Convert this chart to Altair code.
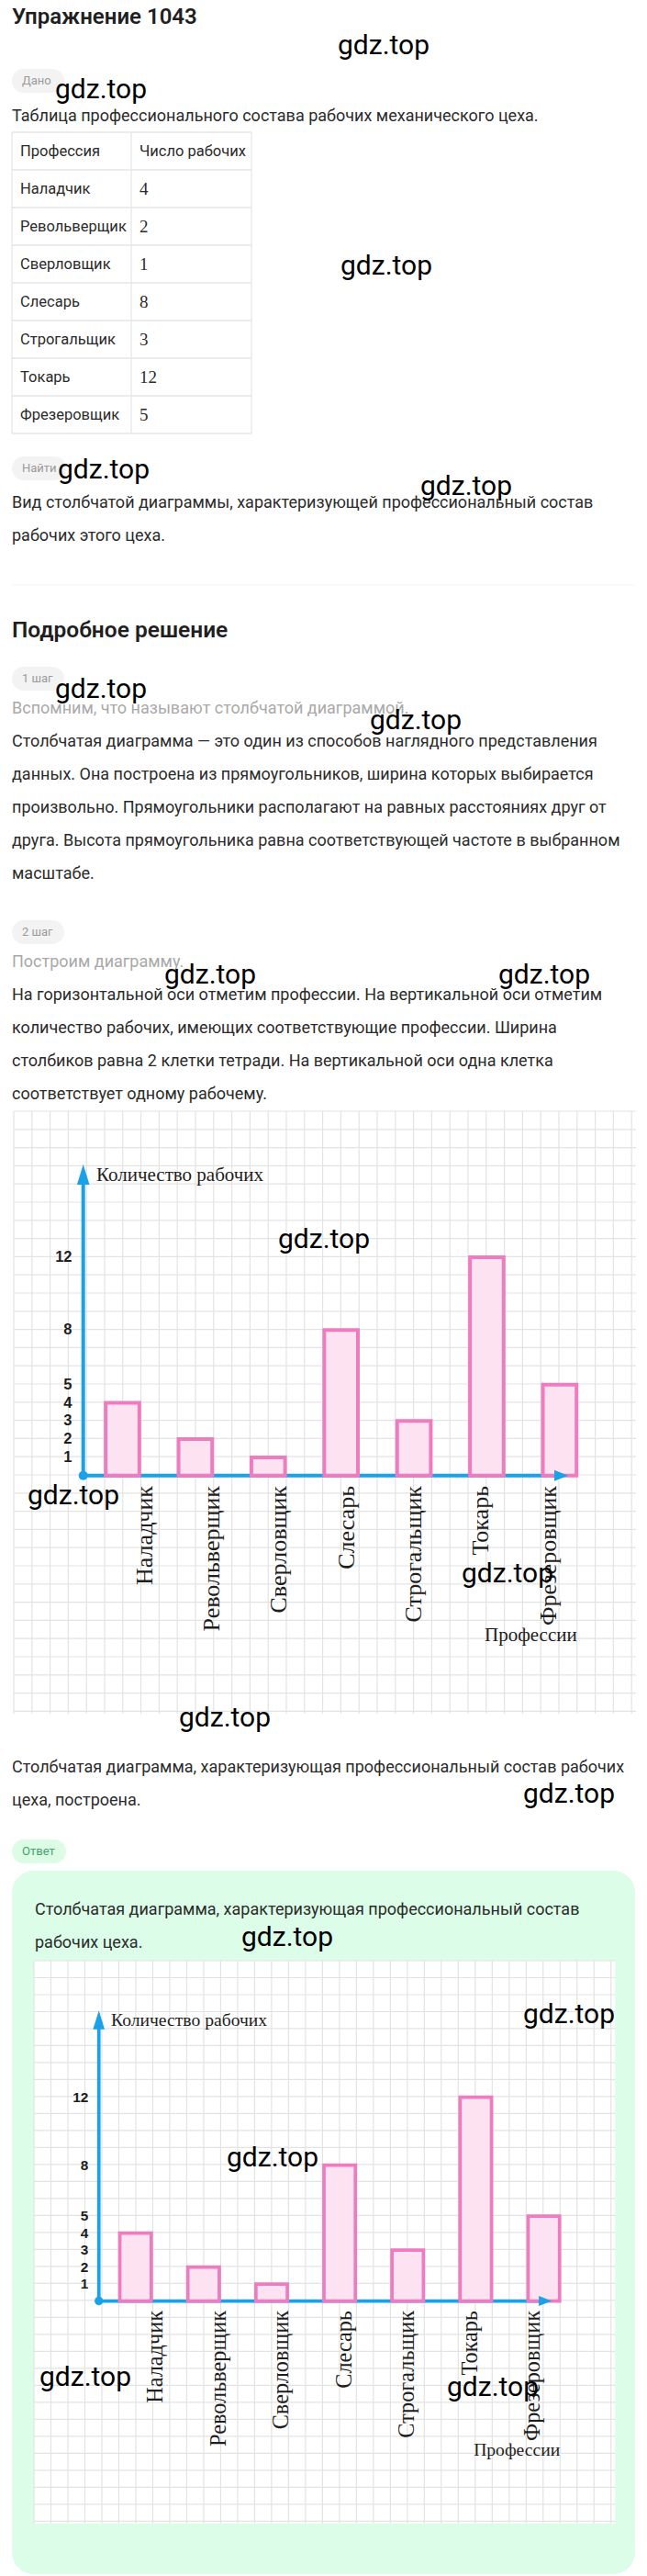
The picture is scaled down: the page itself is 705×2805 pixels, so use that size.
import altair as alt
import pandas as pd

# ---------------- data ----------------
professions = ["Наладчик", "Револьверщик", "Сверловщик", "Слесарь",
               "Строгальщик", "Токарь", "Фрезеровщик"]
workers = [4, 2, 1, 8, 3, 12, 5]
y_tick_values = [12, 8, 5, 4, 3, 2, 1]
table_header = ["Профессия", "Число рабочих"]
y_axis_title = "Количество рабочих"
x_axis_title = "Профессии"

exercise_title = "Упражнение 1043"
given_text = "Таблица профессионального состава рабочих механического цеха."
find_lines = ["Вид столбчатой диаграммы, характеризующей профессиональный состав",
              "рабочих этого цеха."]
solution_title = "Подробное решение"
step1_hint = "Вспомним, что называют столбчатой диаграммой."
step1_lines = ["Столбчатая диаграмма — это один из способов наглядного представления",
               "данных. Она построена из прямоугольников, ширина которых выбирается",
               "произвольно. Прямоугольники располагают на равных расстояниях друг от",
               "друга. Высота прямоугольника равна соответствующей частоте в выбранном",
               "масштабе."]
step2_hint = "Построим диаграмму."
step2_lines = ["На горизонтальной оси отметим профессии. На вертикальной оси отметим",
               "количество рабочих, имеющих соответствующие профессии. Ширина",
               "столбиков равна 2 клетки тетради. На вертикальной оси одна клетка",
               "соответствует одному рабочему."]
done_lines = ["Столбчатая диаграмма, характеризующая профессиональный состав рабочих",
              "цеха, построена."]
answer_lines = ["Столбчатая диаграмма, характеризующая профессиональный состав",
                "рабочих цеха."]
pill_labels = ["Дано", "Найти", "1 шаг", "2 шаг", "Ответ"]
watermark = "gdz.top"

# ---------------- style ----------------
W, H = 705, 2805
SANS = "Roboto"
SERIF = "Liberation Serif"
TXT = "#2b2b2b"
GRAY = "#a9a9a9"
BLUE = "#1ba1e8"
PINK = "#ee7cc0"
PINK_FILL = "#fde3f1"
GRID = "#e3e3e3"
BODY = 18
LH = 36

layers = []
one = pd.DataFrame({"a": [0]})


def text(s, x, y, size=BODY, color=TXT, weight="normal", font=SANS, align="left"):
    return alt.Chart(pd.DataFrame({"t": [s]})).mark_text(
        font=font, fontSize=size, color=color, fontWeight=weight, align=align, baseline="middle"
    ).encode(text="t:N", x=alt.value(x), y=alt.value(y))


def paragraph(lines, x, y0, size=BODY, color=TXT):
    df = pd.DataFrame({"line": lines, "i": list(range(len(lines)))})
    return alt.Chart(df).mark_text(
        font=SANS, fontSize=size, color=color, align="left", baseline="middle"
    ).encode(text="line:N", x=alt.value(x),
             y=alt.Y("i:Q", scale=alt.Scale(domain=[0, 1], range=[y0, y0 + LH], nice=False, zero=False),
                     axis=None))


def rect(x1, y1, x2, y2, fill, radius=0):
    return alt.Chart(one).mark_rect(fill=fill, cornerRadius=radius).encode(
        x=alt.value(x1), x2=alt.value(x2), y=alt.value(y1), y2=alt.value(y2))


def hline(x1, x2, y, color, sw=1):
    return alt.Chart(one).mark_rule(color=color, strokeWidth=sw).encode(
        x=alt.value(x1), x2=alt.value(x2), y=alt.value(y))


def vline(x, y1, y2, color, sw=1):
    return alt.Chart(one).mark_rule(color=color, strokeWidth=sw).encode(
        x=alt.value(x), y=alt.value(y1), y2=alt.value(y2))


def point(x, y, shape, size, color=BLUE):
    return alt.Chart(one).mark_point(shape=shape, size=size, filled=True, color=color,
                                     opacity=1, strokeWidth=0).encode(x=alt.value(x), y=alt.value(y))


def pill(label, y, fill="#f3f3f3", color="#9b9b9b", x2=70):
    return [rect(13, y - 13, x2, y + 13, fill, radius=13),
            text(label, 24, y, size=13, color=color)]


bars_df = pd.DataFrame({"prof": professions, "n": workers})


def chart_block(ox, oy, s):
    L = []
    cell = 19.8 * s
    gw, gh = 678 * s, 656 * s
    L.append(rect(ox, oy, ox + gw, oy + gh, "#ffffff"))
    ncol = int(gw / cell) + 1
    nrow = int(gh / cell) + 1
    L.append(alt.Chart(pd.DataFrame({"k": list(range(ncol))})).mark_rule(color=GRID, strokeWidth=1.2).encode(
        x=alt.X("k:Q", scale=alt.Scale(domain=[0, 1], range=[ox, ox + cell], nice=False, zero=False), axis=None),
        y=alt.value(oy), y2=alt.value(oy + gh)))
    L.append(alt.Chart(pd.DataFrame({"k": list(range(nrow))})).mark_rule(color=GRID, strokeWidth=1.2).encode(
        y=alt.Y("k:Q", scale=alt.Scale(domain=[0, 1], range=[oy, oy + cell], nice=False, zero=False), axis=None),
        x=alt.value(ox), x2=alt.value(ox + gw)))

    ax = ox + 75.7 * s
    base = oy + 396.7 * s
    unit = 19.8 * s
    tip_y = oy + 58 * s
    xtip = ox + 604 * s

    L.append(vline(ax, tip_y + 12 * s, base, BLUE, 4 * s))
    L.append(hline(ax, xtip - 8 * s, base, BLUE, 4 * s))

    r0, r1 = ox + 100.15 * s, ox + 613.2 * s
    xs = alt.Scale(domain=professions, range=[r0, r1], paddingInner=0.538, paddingOuter=0)
    ys = alt.Scale(domain=[0, 12], range=[base, base - 12 * unit], nice=False, zero=False)
    L.append(alt.Chart(bars_df).mark_bar(fill=PINK_FILL, stroke=PINK, strokeWidth=4 * s).encode(
        x=alt.X("prof:N", scale=xs, axis=None),
        y=alt.Y("n:Q", scale=ys, axis=None)))

    L.append(point(ax, tip_y + 11 * s, "M0,-1L0.62,1L-0.62,1Z", (22 * s) ** 2))
    L.append(point(xtip - 7.5 * s, base, "M1,0L-1,-0.8L-1,0.8Z", (15 * s) ** 2))
    L.append(point(ax, base, "circle", (10 * s) ** 2))

    L.append(alt.Chart(pd.DataFrame({"v": y_tick_values})).mark_text(
        font="Liberation Sans", fontWeight="bold", fontSize=16.5 * s, color="#1e1e1e",
        align="right", baseline="middle").encode(
        text="v:Q", x=alt.value(ox + 63.5 * s), y=alt.Y("v:Q", scale=ys, axis=None)))

    xs_lab = alt.Scale(domain=professions, range=[r0 + 6 * s, r1 + 6 * s], paddingInner=0.538, paddingOuter=0)
    L.append(alt.Chart(bars_df).mark_text(
        font=SERIF, fontSize=26 * s, color="#1e1e1e", angle=270, align="right", baseline="middle").encode(
        text="prof:N", x=alt.X("prof:N", scale=xs_lab, axis=None), y=alt.value(oy + 408 * s)))

    L.append(text(y_axis_title, ox + 90 * s, oy + 70 * s, size=21 * s, font=SERIF, color="#1e1e1e"))
    L.append(text(x_axis_title, ox + 513 * s, oy + 571 * s, size=21 * s, font=SERIF, color="#1e1e1e"))
    return L


# ---------------- page ----------------
layers.append(text(exercise_title, 13, 19, size=24, weight=600, color="#1f1f1f"))
layers += pill(pill_labels[0], 88)
layers.append(text(given_text, 13, 127))

# table
T_TOP, T_BOT, T_L, T_M, T_R = 144, 472, 13, 143, 274
TB = "#e6e6e6"
layers.append(alt.Chart(pd.DataFrame({"k": list(range(9))})).mark_rule(color=TB, strokeWidth=1.3).encode(
    y=alt.Y("k:Q", scale=alt.Scale(domain=[0, 8], range=[T_TOP, T_BOT], nice=False, zero=False), axis=None),
    x=alt.value(T_L), x2=alt.value(T_R)))
for xv in (T_L, T_M, T_R):
    layers.append(vline(xv, T_TOP, T_BOT, TB, 1.3))
layers.append(text(table_header[0], 22, 165, size=16.5))
layers.append(text(table_header[1], 152, 165, size=16.5))
row_scale = alt.Scale(domain=["_h"] + professions, range=[T_TOP, T_BOT], paddingInner=0, paddingOuter=0)
layers.append(alt.Chart(bars_df).mark_text(font=SANS, fontSize=16.5, color=TXT, align="left",
                                           baseline="middle").encode(
    text="prof:N", x=alt.value(22), y=alt.Y("prof:N", scale=row_scale, axis=None)))
layers.append(alt.Chart(bars_df).mark_text(font=SERIF, fontSize=19, color=TXT, align="left",
                                           baseline="middle").encode(
    text="n:Q", x=alt.value(152), y=alt.Y("prof:N", scale=row_scale, axis=None)))

layers += pill(pill_labels[1], 510, x2=72)
layers.append(paragraph(find_lines, 13, 548))
layers.append(hline(13, 692, 637, "#f6f6f6", 1.2))
layers.append(text(solution_title, 13, 687, size=24.5, weight=600, color="#1f1f1f"))
layers += pill(pill_labels[2], 739)
layers.append(text(step1_hint, 13, 772, color=GRAY))
layers.append(paragraph(step1_lines, 13, 808))
layers += pill(pill_labels[3], 1015)
layers.append(text(step2_hint, 13, 1048, color=GRAY))
layers.append(paragraph(step2_lines, 13, 1084))

layers += chart_block(15, 1210, 1.0)

layers.append(paragraph(done_lines, 13, 1925))
layers += pill(pill_labels[4], 2016, fill="#dcfce6", color="#43a46a", x2=72)
layers.append(rect(13, 2037, 692, 2803, "#dcfde7", radius=24))
layers.append(paragraph(answer_lines, 38, 2080))
layers += chart_block(37, 2135, 0.934)

# watermarks
wm_pos = [(418, 50), (110, 98), (421, 290), (113, 512), (508, 530), (110, 751), (453, 785),
          (229, 1062), (593, 1062), (353, 1350), (80, 1629), (553, 1714), (245, 1871),
          (620, 1954), (313, 2110), (620, 2194), (297, 2350), (93, 2589), (537, 2600)]
for (wx, wy) in wm_pos:
    layers.append(text(watermark, wx, wy, size=30, color="#000000", align="center"))

chart = alt.layer(*layers).resolve_scale(x="independent", y="independent").properties(
    width=W, height=H, padding=0, autosize=alt.AutoSizeParams(type="none"), background="#ffffff"
).configure_view(strokeWidth=0)

chart.save("out.html", embed_options={"renderer": "svg", "actions": False})
